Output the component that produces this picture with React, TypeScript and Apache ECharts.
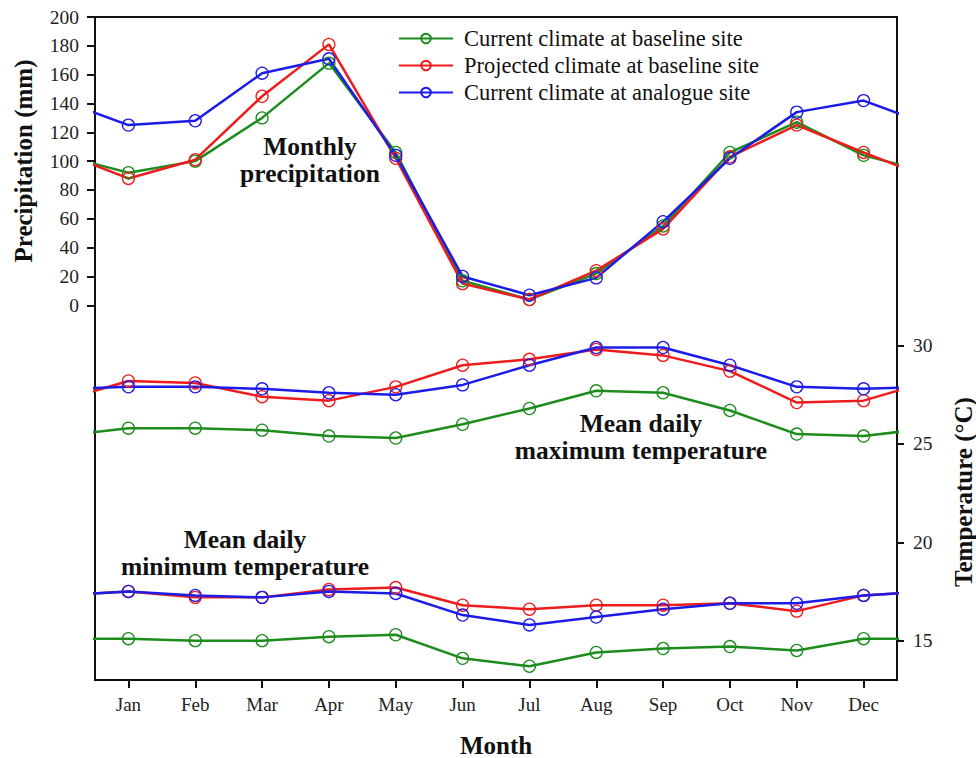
import React, { useEffect, useRef } from "react";
import * as echarts from "echarts";

const months = ["Jan", "Feb", "Mar", "Apr", "May", "Jun", "Jul", "Aug", "Sep", "Oct", "Nov", "Dec"];
const seriesNames = [
  "Current climate at baseline site",
  "Projected climate at baseline site",
  "Current climate at analogue site",
];
const seriesColors = ["#1c8c1c", "#ee1c1c", "#1c1ce8"];

// Monthly precipitation (mm)
const precipCurBase = [92, 100, 130, 168, 106, 17, 4, 22, 55, 106, 127, 104];
const precipProjBase = [88, 101, 145, 181, 102, 15, 4, 24, 53, 103, 125, 106];
const precipAnalog = [125, 128, 161, 171, 104, 20, 7, 19, 58, 102, 134, 142];

// Mean daily maximum temperature (°C)
const tmaxCurBase = [25.8, 25.8, 25.7, 25.4, 25.3, 26.0, 26.8, 27.7, 27.6, 26.7, 25.5, 25.4];
const tmaxProjBase = [28.2, 28.1, 27.4, 27.2, 27.9, 29.0, 29.3, 29.8, 29.5, 28.7, 27.1, 27.2];
const tmaxAnalog = [27.9, 27.9, 27.8, 27.6, 27.5, 28.0, 29.0, 29.9, 29.9, 29.0, 27.9, 27.8];

// Mean daily minimum temperature (°C)
const tminCurBase = [15.1, 15.0, 15.0, 15.2, 15.3, 14.1, 13.7, 14.4, 14.6, 14.7, 14.5, 15.1];
const tminProjBase = [17.5, 17.2, 17.2, 17.6, 17.7, 16.8, 16.6, 16.8, 16.8, 16.9, 16.5, 17.3];
const tminAnalog = [17.5, 17.3, 17.2, 17.5, 17.4, 16.3, 15.8, 16.2, 16.6, 16.9, 16.9, 17.3];

const precipTicks = [0, 20, 40, 60, 80, 100, 120, 140, 160, 180, 200];
const tempTicks = [15, 20, 25, 30];

const FONT = "'Liberation Serif', 'Times New Roman', serif";

// wrap-around: previous December before January, next January after December (clipped by the grid)
function cyclic(values: number[]) {
  const pts: number[][] = [[0, values[11]]];
  values.forEach((v, i) => pts.push([i + 1, v]));
  pts.push([13, values[0]]);
  return pts;
}

function makeSeries(name: string, color: string, values: number[], yIndex: number) {
  return {
    type: "line",
    name,
    xAxisIndex: 1,
    yAxisIndex: yIndex,
    data: cyclic(values),
    symbol: "circle",
    symbolSize: 12,
    clip: true,
    lineStyle: { color, width: 2.5 },
    itemStyle: { color: "transparent", borderColor: color, borderWidth: 1.3 },
    emphasis: { disabled: true },
  };
}

export default function App() {
  const ref = useRef<HTMLDivElement>(null);

  useEffect(() => {
    if (!ref.current) return;
    const chart = echarts.init(ref.current, null, { renderer: "svg" });
    const groups = [
      [precipCurBase, precipProjBase, precipAnalog, 0],
      [tmaxCurBase, tmaxProjBase, tmaxAnalog, 1],
      [tminCurBase, tminProjBase, tminAnalog, 1],
    ] as const;
    const series: any[] = [];
    groups.forEach((g) => {
      for (let k = 0; k < 3; k++) {
        series.push(makeSeries(seriesNames[k], seriesColors[k], g[k] as number[], g[3] as number));
      }
    });

    const axisColor = "#111";
    chart.setOption({
      animation: false,
      backgroundColor: "#fff",
      textStyle: { fontFamily: FONT },
      grid: {
        left: 95,
        right: 79,
        top: 17,
        bottom: 78,
        outerBoundsMode: "none",
        containLabel: false,
        show: true,
        borderColor: axisColor,
        borderWidth: 2,
        backgroundColor: "transparent",
      },
      legend: {
        data: seriesNames,
        orient: "vertical",
        left: 398,
        top: 27,
        padding: 0,
        itemWidth: 54,
        itemHeight: 12,
        itemGap: 4,
        selectedMode: false,
        textStyle: { fontFamily: FONT, fontSize: 22.5, color: "#111", padding: [0, 0, 0, 6] },
      },
      xAxis: [
        {
          type: "category",
          data: months,
          boundaryGap: true,
          position: "bottom",
          axisLine: { show: true, onZero: false, lineStyle: { color: axisColor, width: 2 } },
          axisTick: { show: true, alignWithLabel: true, length: 8, lineStyle: { color: axisColor, width: 2 } },
          axisLabel: { margin: 15, fontSize: 19, color: "#222", fontFamily: FONT },
          splitLine: { show: false },
          name: "Month",
          nameLocation: "middle",
          nameGap: 53,
          nameTextStyle: { fontSize: 25, fontWeight: "bold", color: "#111", fontFamily: FONT },
        },
        {
          type: "value",
          min: 0.5,
          max: 12.5,
          show: false,
          axisLine: { onZero: false },
          splitLine: { show: false },
        },
      ],
      yAxis: [
        {
          type: "value",
          position: "left",
          min: -260,
          max: 200,
          axisLine: { show: true, onZero: false, lineStyle: { color: axisColor, width: 2 } },
          axisTick: { show: true, length: 8, customValues: precipTicks, lineStyle: { color: axisColor, width: 2 } },
          axisLabel: { margin: 16, fontSize: 19.5, color: "#222", fontFamily: FONT, customValues: precipTicks },
          splitLine: { show: false },
        },
        {
          type: "value",
          position: "right",
          min: 13,
          max: 46.7,
          axisLine: { show: true, onZero: false, lineStyle: { color: axisColor, width: 2 } },
          axisTick: { show: true, length: 7, customValues: tempTicks, lineStyle: { color: axisColor, width: 2 } },
          axisLabel: { margin: 16, fontSize: 19.5, color: "#222", fontFamily: FONT, customValues: tempTicks },
          splitLine: { show: false },
        },
      ],
      graphic: [
        {
          type: "text",
          x: 23,
          y: 161,
          rotation: Math.PI / 2,
          style: { text: "Precipitation (mm)", font: `bold 25px ${FONT}`, fill: "#111", textAlign: "center", textVerticalAlign: "middle" },
        },
        {
          type: "text",
          x: 963,
          y: 492,
          rotation: Math.PI / 2,
          style: { text: "Temperature (°C)", font: `bold 25px ${FONT}`, fill: "#111", textAlign: "center", textVerticalAlign: "middle" },
        },
        {
          type: "text",
          x: 310,
          y: 160,
          style: { text: "Monthly\nprecipitation", font: `bold 25.5px ${FONT}`, lineHeight: 27, fill: "#111", textAlign: "center", textVerticalAlign: "middle" },
        },
        {
          type: "text",
          x: 641,
          y: 437,
          style: { text: "Mean daily\nmaximum temperature", font: `bold 25.5px ${FONT}`, lineHeight: 27, fill: "#111", textAlign: "center", textVerticalAlign: "middle" },
        },
        {
          type: "text",
          x: 245,
          y: 553,
          style: { text: "Mean daily\nminimum temperature", font: `bold 25.5px ${FONT}`, lineHeight: 27, fill: "#111", textAlign: "center", textVerticalAlign: "middle" },
        },
      ],
      series,
    });
    return () => chart.dispose();
  }, []);

  return <div ref={ref} style={{ position: "fixed", left: 0, top: 0, width: 976, height: 758 }} />;
}
